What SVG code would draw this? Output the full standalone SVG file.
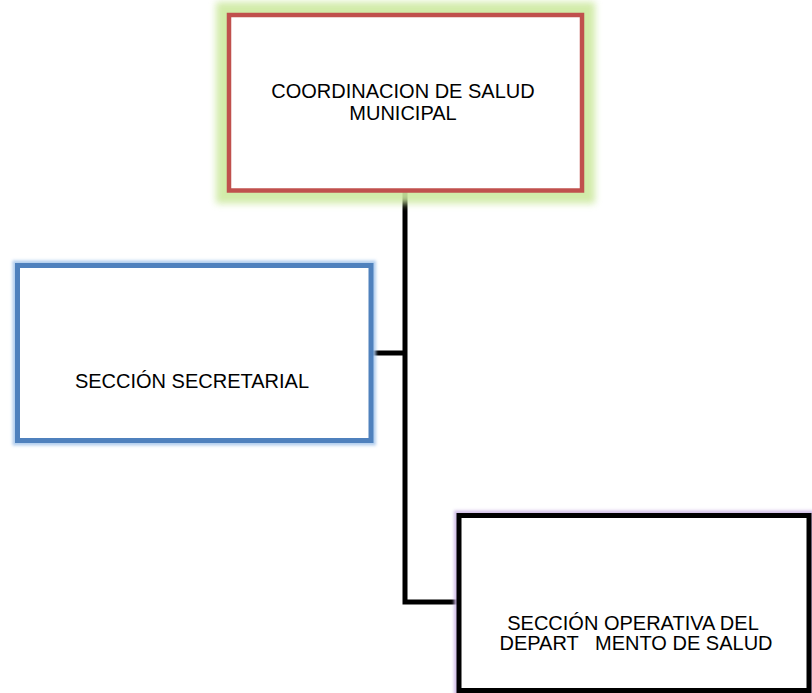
<svg xmlns="http://www.w3.org/2000/svg" width="812" height="693" viewBox="0 0 812 693">
  <style>
    .box { fill: #ffffff; }
    .label { font-family: "Liberation Sans", Arial, sans-serif; font-size: 20px; fill: #000000; text-anchor: middle; }
    .link { fill: none; stroke: #000000; stroke-width: 5; }
    .glow { fill: none; }
  </style>
  <defs>
    <filter id="softGlow" x="-20%" y="-30%" width="140%" height="160%">
      <feGaussianBlur stdDeviation="3.5"/>
    </filter>
    <filter id="thinGlow" x="-20%" y="-30%" width="140%" height="160%">
      <feGaussianBlur stdDeviation="1.8"/>
    </filter>
  </defs>

  <rect width="812" height="693" fill="#ffffff"/>

  <!-- connectors: trunk from the coordination box down to the operative section, branch to the secretarial section -->
  <g id="connectors">
    <path class="link" d="M405,190 V602 H459"/>
    <path class="link" d="M371,353 H405"/>
  </g>

  <g id="coordinacion">
    <rect class="glow" x="229" y="15" width="353" height="175.5" stroke="#cde9a0" stroke-width="26" opacity="0.9" filter="url(#softGlow)"/>
    <rect class="box" x="229" y="15" width="353" height="175.5" stroke="#c0504d" stroke-width="4.5"/>
    <text class="label" x="403" y="97.5">COORDINACION DE SALUD</text>
    <text class="label" x="403" y="119.5">MUNICIPAL</text>
  </g>

  <g id="secretarial">
    <rect class="glow" x="17.5" y="265.5" width="353.5" height="175" stroke="#a9c8ec" stroke-width="10" opacity="0.9" filter="url(#thinGlow)"/>
    <rect class="box" x="17.5" y="265.5" width="353.5" height="175" stroke="#4f81bd" stroke-width="5"/>
    <text class="label" x="192" y="388">SECCIÓN SECRETARIAL</text>
  </g>

  <g id="operativa">
    <rect class="glow" x="459" y="515.5" width="350" height="175" stroke="#cdb8e6" stroke-width="10" opacity="0.9" filter="url(#thinGlow)"/>
    <rect class="box" x="459" y="515.5" width="350" height="175" stroke="#000000" stroke-width="5"/>
    <text class="label" x="633" y="630">SECCIÓN OPERATIVA DEL</text>
    <text class="label" x="636" y="650" xml:space="preserve" style="white-space: pre">DEPART   MENTO DE SALUD</text>
  </g>
</svg>
